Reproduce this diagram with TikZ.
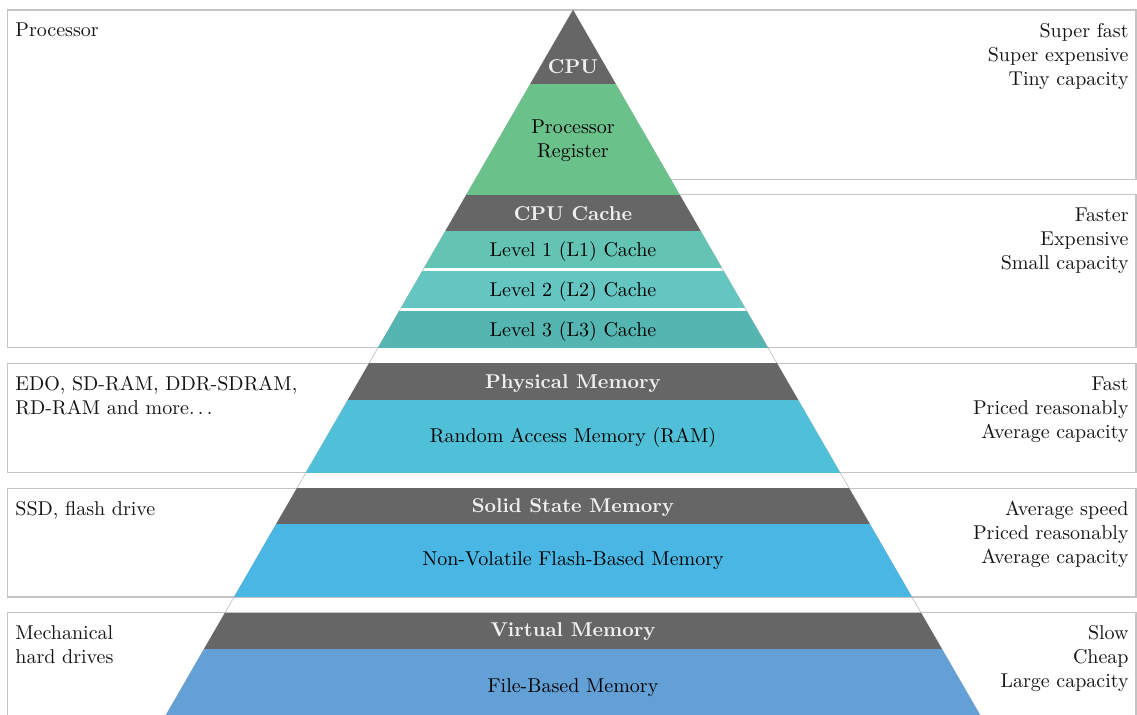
\documentclass[tikz,border=0pt]{standalone}
\definecolor{bandgray}{HTML}{666666}
\definecolor{reggreen}{HTML}{6AC18A}
\definecolor{lone}{HTML}{64C4B4}
\definecolor{ltwo}{HTML}{64C5C1}
\definecolor{lthree}{HTML}{55B5B1}
\definecolor{ramblue}{HTML}{50BFD8}
\definecolor{ssdblue}{HTML}{4AB6E3}
\definecolor{fileblue}{HTML}{62A0D6}
\definecolor{framegray}{HTML}{C4C4C4}
\newcommand{\spaceddots}{.\kern\fontdimen3\font.\kern\fontdimen3\font.}
\begin{document}
\begin{tikzpicture}[x=0.5pt,y=-0.5pt,
  frame/.style={draw=framegray, line width=0.75pt},
  label/.style={inner sep=0pt, text=black, anchor=base},
  head/.style={inner sep=0pt, text=white!94!black, font=\bfseries, anchor=base},
  usage/.style={inner sep=0pt, align=left, anchor=north west, text=black!92},
  cost/.style={inner sep=0pt, align=right, anchor=north east, text=black!92}]
\useasboundingbox (0,0) rectangle (1137,714);
\clip (0,0) rectangle (1137,714);

% frames behind the pyramid: the processor frame spans both upper levels on
% the left and splits into two frames on the right
\draw[frame] (573,179.5) -- (1136,179.5) -- (1136,10) -- (7.5,10)
  -- (7.5,347.5) -- (1136,347.5) -- (1136,194.5) -- (573,194.5);
\draw[frame] (7.5,363.5) rectangle (1136,472.5);
\draw[frame] (7.5,488.5) rectangle (1136,597);
\draw[frame] (7.5,612.5) rectangle (1136,760);

% pyramid outline
\coordinate (apex) at (573,10);
\coordinate (bl) at (157.3,730);
\coordinate (br) at (988.7,730);
\draw[black!35, line width=0.2pt] (apex) -- (bl) -- (br) -- cycle;

% pyramid bands
\begin{scope}
  \clip (apex) -- (bl) -- (br) -- cycle;
  \fill[bandgray] (0,10) rectangle (1137,84);
  \fill[reggreen] (0,84) rectangle (1137,194.5);
  \fill[bandgray] (0,194.5) rectangle (1137,231);
  \fill[lone] (0,231) rectangle (1137,267.7);
  \fill[ltwo] (0,271) rectangle (1137,308);
  \fill[lthree] (0,311.3) rectangle (1137,348.3);
  \fill[bandgray] (0,363.3) rectangle (1137,400);
  \fill[ramblue] (0,400) rectangle (1137,472.5);
  \fill[bandgray] (0,487.8) rectangle (1137,524);
  \fill[ssdblue] (0,524) rectangle (1137,597);
  \fill[bandgray] (0,612.5) rectangle (1137,649);
  \fill[fileblue] (0,649) rectangle (1137,730);
\end{scope}

% band texts
\node[head] (cpu) at (573,73.3) {CPU};
\node[inner sep=0pt, text=black, align=center, anchor=north] (reg) at (573,119.3) {Processor\\Register};
\node[head] (cache) at (573,220) {CPU Cache};
\node[label] (lvone) at (573,256.2) {Level 1 (L1) Cache};
\node[label] (lvtwo) at (573,296.5) {Level 2 (L2) Cache};
\node[label] (lvthree) at (573,336.7) {Level 3 (L3) Cache};
\node[head] (phys) at (573,388.4) {Physical Memory};
\node[label] (ram) at (573,442.8) {Random Access Memory (RAM)};
\node[head] (ssd) at (573,512.4) {Solid State Memory};
\node[label] (flash) at (573,565) {Non-Volatile Flash-Based Memory};
\node[head] (virt) at (573,636.5) {Virtual Memory};
\node[label] (file) at (573,692.5) {File-Based Memory};

% left-hand descriptions
\node[usage] (useA) at (15,22.7) {Processor};
\node[usage] (useC) at (15,376.2) {EDO, SD-RAM, DDR-SDRAM,\\RD-RAM and more\spaceddots};
\node[usage] (useD) at (15,501.2) {SSD, flash drive};
\node[usage] (useE) at (15,625.2) {Mechanical\\hard drives};

% right-hand properties
\node[cost] (costA) at (1129,22.7) {Super fast\\Super expensive\\Tiny capacity};
\node[cost] (costB) at (1129,207.2) {Faster\\Expensive\\Small capacity};
\node[cost] (costC) at (1129,376.2) {Fast\\Priced reasonably\\Average capacity};
\node[cost] (costD) at (1129,501.2) {Average speed\\Priced reasonably\\Average capacity};
\node[cost] (costE) at (1129,625.2) {Slow\\Cheap\\Large capacity};
\end{tikzpicture}
\end{document}
